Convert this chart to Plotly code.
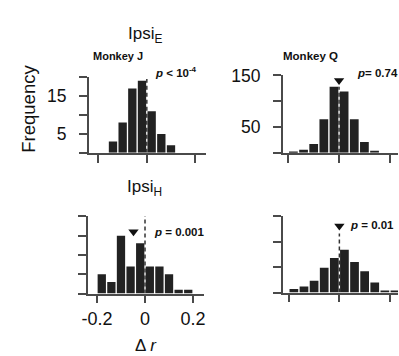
import plotly.graph_objects as go

W, H = 399, 356

# ---- data ----
bins_J_E = [-0.14, -0.10, -0.06, -0.02, 0.02, 0.06, 0.10]
counts_J_E = [3, 8, 17, 19, 11, 5, 2]
bins_Q_E = [-0.18, -0.14, -0.10, -0.06, -0.02, 0.02, 0.06, 0.10, 0.14]
counts_Q_E = [2, 6, 17, 65, 128, 119, 65, 21, 4]
bins_J_H = [-0.18, -0.14, -0.10, -0.06, -0.02, 0.02, 0.06, 0.10, 0.14, 0.18]
counts_J_H = [5, 3, 15, 7, 13, 7, 7, 5, 1, 1]
bins_Q_H = [-0.18, -0.14, -0.10, -0.06, -0.02, 0.02, 0.06, 0.10, 0.14, 0.18, 0.22]
counts_Q_H = [7, 12, 23, 49, 68, 84, 60, 42, 20, 4, 4]

mean_x = [-0.051, 0.0, -0.048, 0.0]
mean_y = [21.3, 140, 16, 131]
dash_top = [19.5, 128, 21, 116]
p_texts = ["<b><i>p</i> &lt; 10<sup>-4</sup></b>", "<b><i>p</i>= 0.74</b>",
           "<b><i>p</i> = 0.001</b>", "<b><i>p</i> = 0.01</b>"]

x_tickvals = [-0.2, 0, 0.2]
x_ticktext = ["-0.2", "0", "0.2"]
y_minor_small = [0, 5, 10, 15, 20]
y_label_small = [5, 15]
y_minor_big = [0, 50, 100, 150]
y_label_big = [50, 150]

FONT = "Liberation Sans, Arial, sans-serif"
BAR = "#222222"
AX = "#4a4a4a"

# panel geometry in pixels
panels = [
    dict(l=84.3, r=203.6, t=69, b=147, xr=[-0.24, 0.245], yr=[0, 20]),
    dict(l=281.7, r=399, t=67.3, b=147, xr=[-0.222, 0.2325], yr=[0, 150]),
    dict(l=83.3, r=202, t=212.3, b=291.7, xr=[-0.238, 0.2475], yr=[0, 20]),
    dict(l=281.7, r=399, t=212.3, b=290.7, xr=[-0.224, 0.232], yr=[0, 150]),
]
bins = [bins_J_E, bins_Q_E, bins_J_H, bins_Q_H]
counts = [counts_J_E, counts_Q_E, counts_J_H, counts_Q_H]

fig = go.Figure()
layout = dict(width=W, height=H, margin=dict(l=0, r=0, t=0, b=0),
              paper_bgcolor="white", plot_bgcolor="white", showlegend=False,
              font=dict(family=FONT, color="#222"))

for i, p in enumerate(panels):
    n = i + 1
    xa = "x" if n == 1 else f"x{n}"
    ya = "y" if n == 1 else f"y{n}"
    fig.add_trace(go.Bar(x=bins[i], y=counts[i], width=0.0345,
                         marker=dict(color=BAR, line=dict(width=0)),
                         xaxis=xa, yaxis=ya))
    fig.add_trace(go.Scatter(x=[0, 0], y=[0, dash_top[i]], mode="lines",
                             line=dict(color="#333333", width=1.5, dash="4px,3px"),
                             xaxis=xa, yaxis=ya, cliponaxis=False))
    fig.add_trace(go.Scatter(x=[mean_x[i]], y=[mean_y[i]], mode="markers",
                             marker=dict(symbol="triangle-down", size=9, color="#111111"),
                             xaxis=xa, yaxis=ya, cliponaxis=False))
    big = i in (1, 3)
    xkey = "xaxis" if n == 1 else f"xaxis{n}"
    ykey = "yaxis" if n == 1 else f"yaxis{n}"
    layout[xkey] = dict(domain=[p["l"] / W, min(p["r"] / W, 1.0)], range=p["xr"], anchor=ya,
                        showgrid=False, zeroline=False, showline=True, linecolor=AX, linewidth=1.5,
                        ticks="outside", ticklen=8, tickwidth=1.5, tickcolor=AX,
                        tickmode="array", tickvals=x_tickvals, ticktext=x_ticktext,
                        showticklabels=(n == 3),
                        tickfont=dict(size=18, family=FONT, color="#111"), fixedrange=True)
    minor_vals = y_minor_big if big else y_minor_small
    label_vals = y_label_big if big else y_label_small
    layout[ykey] = dict(domain=[1 - p["b"] / H, 1 - p["t"] / H], range=p["yr"], anchor=xa,
                        showgrid=False, zeroline=False, showline=True, linecolor=AX, linewidth=1.5,
                        ticks="outside", ticklen=8, tickwidth=1.5, tickcolor=AX,
                        tickmode="array", tickvals=label_vals,
                        ticktext=[str(v) for v in label_vals],
                        showticklabels=(n in (1, 2)),
                        minor=dict(tickmode="array", tickvals=minor_vals, ticks="outside",
                                   ticklen=8, tickwidth=1.5, tickcolor=AX, showgrid=False),
                        ticklabelstandoff=9,
                        tickfont=dict(size=17.5, family=FONT, color="#111"), fixedrange=True)

fig.update_layout(**layout)

ann = []
def px_ann(text, x, y, size, xanchor="center", yanchor="middle", angle=0, color="#111"):
    ann.append(dict(text=text, x=x / W, y=1 - y / H, xref="paper", yref="paper",
                    xanchor=xanchor, yanchor=yanchor, showarrow=False, textangle=angle,
                    font=dict(size=size, family=FONT, color=color)))

px_ann("Ipsi<sub>E</sub>", 141, 26, 17)
px_ann("Ipsi<sub>H</sub>", 141, 183, 17)
px_ann("Frequency", 23, 102, 18.5, angle=-90)
px_ann("<b>Monkey J</b>", 113.5, 47.5, 11)
px_ann("<b>Monkey Q</b>", 309.5, 47.7, 11.5)
px_ann("Δ <i>r</i>", 143, 345, 17)
px_ann(p_texts[0], 150, 64, 11.5, xanchor="left")
px_ann(p_texts[1], 355, 65, 11.5, xanchor="left")
px_ann(p_texts[2], 148.3, 228, 11.5, xanchor="left")
px_ann(p_texts[3], 348, 220.7, 11.5, xanchor="left")
fig.update_layout(annotations=ann)

fig.write_html("out.html", config={"displayModeBar": False})
